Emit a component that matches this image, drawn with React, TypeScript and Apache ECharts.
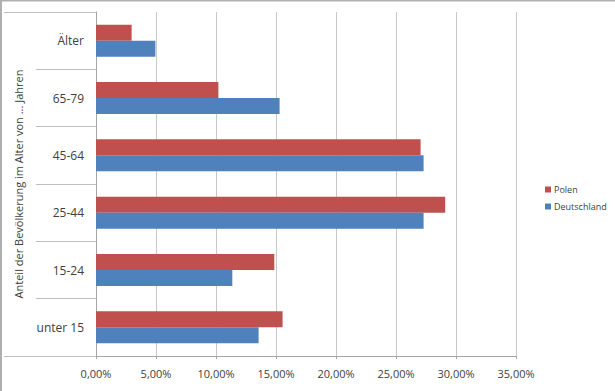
import React, { useEffect, useRef } from "react";
import * as echarts from "echarts";

const categories = ["unter 15", "15-24", "25-44", "45-64", "65-79", "Älter"];
const polen = [0.1555, 0.1486, 0.291, 0.2705, 0.102, 0.0297];
const deutschland = [0.1355, 0.1136, 0.273, 0.273, 0.153, 0.0495];
const seriesNames = ["Polen", "Deutschland"];
const axisTitle = "Anteil der Bevölkerung im Alter von ... Jahren";

const FONT = "'Open Sans', 'Noto Sans', sans-serif";

export default function App() {
  const ref = useRef<HTMLDivElement>(null);
  useEffect(() => {
    document.body.style.margin = "0";
    const chart = echarts.init(ref.current!, null, { renderer: "svg" });
    chart.setOption({
      animation: false,
      backgroundColor: "#ffffff",
      textStyle: { fontFamily: FONT },
      grid: { left: 96, top: 12, width: 420, bottom: 35 },
      legend: {
        orient: "vertical",
        left: 540,
        top: 180,
        itemWidth: 6,
        itemHeight: 6,
        itemGap: 8,
        icon: "rect",
        data: seriesNames,
        textStyle: { fontSize: 9, color: "#404040", fontFamily: FONT, padding: [0, 0, 0, -2] },
      },
      xAxis: {
        type: "value",
        min: 0,
        max: 0.35,
        interval: 0.05,
        axisLine: { show: true, lineStyle: { color: "#a6a6a6" } },
        axisTick: { show: true, length: 3, lineStyle: { color: "#a6a6a6" } },
        splitLine: { show: true, lineStyle: { color: "#c8c8c8" } },
        axisLabel: {
          fontSize: 11,
          color: "#404040",
          margin: 12,
          formatter: (v: number) => (v * 100).toFixed(2).replace(".", ",") + "%",
        },
      },
      yAxis: {
        type: "category",
        data: categories,
        name: axisTitle,
        nameLocation: "middle",
        nameGap: 72,
        nameTextStyle: { fontSize: 11, color: "#404040" },
        axisLine: { show: true, lineStyle: { color: "#a6a6a6" } },
        axisTick: { show: true, length: 60, lineStyle: { color: "#bfbfbf" } },
        axisLabel: { fontSize: 12, color: "#404040", margin: 12 },
      },
      graphic: [
        {
          type: "polyline",
          shape: { points: [[1, 391], [1, 0.5], [615, 0.5]] },
          style: { stroke: "#b0b0b0", lineWidth: 2, fill: "none" },
          silent: true,
        },
        {
          type: "line",
          shape: { x1: 4, y1: 356.5, x2: 96, y2: 356.5 },
          style: { stroke: "#bfbfbf", lineWidth: 1 },
          silent: true,
        },
        {
          type: "line",
          shape: { x1: 4, y1: 12.5, x2: 96, y2: 12.5 },
          style: { stroke: "#bfbfbf", lineWidth: 1 },
          silent: true,
        },
      ],
      series: [
        {
          name: "Polen",
          type: "bar",
          data: polen,
          barWidth: 16,
          barGap: "0%",
          itemStyle: { color: "#C0504D" },
        },
        {
          name: "Deutschland",
          type: "bar",
          data: deutschland,
          barWidth: 16,
          barGap: "0%",
          itemStyle: { color: "#4F81BD" },
        },
      ],
    });
    return () => chart.dispose();
  }, []);
  return <div ref={ref} style={{ width: 615, height: 391 }} />;
}
